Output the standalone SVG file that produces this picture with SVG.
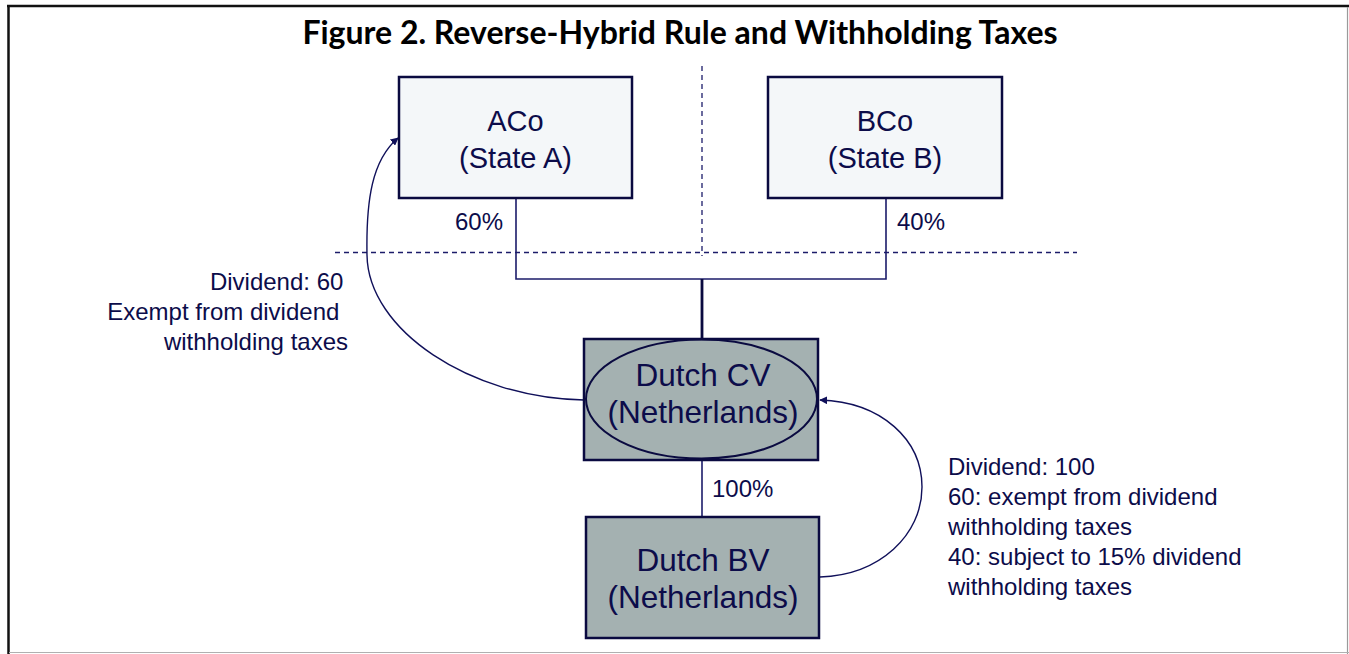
<svg xmlns="http://www.w3.org/2000/svg" width="1349" height="654" viewBox="0 0 1349 654">
  <defs>
    <marker id="arrow" viewBox="0 0 10 10" refX="9" refY="5" markerWidth="8" markerHeight="8" markerUnits="userSpaceOnUse" orient="auto">
      <path d="M0,0 L10,5 L0,10 z" fill="#10105a"/>
    </marker>
  </defs>
  <style>
    .title { font-family: Lato, "Liberation Sans", sans-serif; font-weight: 700; font-size: 32px; fill: #000; }
    .node-text { font-family: "Liberation Sans", Arial, sans-serif; font-size: 29px; fill: #0c0c4a; text-anchor: middle; }
    .node-text-lg { font-family: "Liberation Sans", Arial, sans-serif; font-size: 31.5px; fill: #0c0c4a; text-anchor: middle; }
    .label { font-family: "Liberation Sans", Arial, sans-serif; font-size: 24px; fill: #0c0c4a; }
    .box-light { fill: #f4f7f9; stroke: #0a0a40; stroke-width: 2.5; }
    .box-grey { fill: #a4b1b1; stroke: #0a0a40; stroke-width: 2.5; }
    .guide { stroke: #1c1c6a; stroke-width: 1.3; stroke-dasharray: 5 4; fill: none; }
    .link { stroke: #1c1c6a; stroke-width: 1.6; fill: none; }
    .flow { stroke: #10105a; stroke-width: 1.4; fill: none; marker-end: url(#arrow); }
  </style>

  <!-- page frame -->
  <rect x="0" y="0" width="1349" height="654" fill="#ffffff"/>
  <line x1="7" y1="6" x2="1349" y2="6" stroke="#111" stroke-width="2.5"/>
  <line x1="8.5" y1="5" x2="8.5" y2="654" stroke="#111" stroke-width="2.5"/>
  <line x1="1347.5" y1="7" x2="1347.5" y2="654" stroke="#9a9a9a" stroke-width="1.2"/>
  <line x1="9" y1="652.5" x2="1349" y2="652.5" stroke="#b0b0b0" stroke-width="1.2"/>

  <text class="title" x="680" y="44" text-anchor="middle">Figure 2. Reverse-Hybrid Rule and Withholding Taxes</text>

  <!-- jurisdiction boundaries -->
  <g id="boundaries">
    <line class="guide" x1="702" y1="66" x2="702" y2="256"/>
    <line class="guide" x1="335" y1="252.5" x2="1077" y2="252.5"/>
  </g>

  <!-- ownership and dividend connectors -->
  <g id="connectors">
    <polyline class="link" points="516,198 516,279 886,279 886,198"/>
    <line x1="702" y1="279" x2="702" y2="340" stroke="#0a0a40" stroke-width="2.8"/>
    <line class="link" x1="702" y1="460" x2="702" y2="517"/>
    <path class="flow" d="M584,400 C470,398 368,330 367,255 C366,200 372,160 398,138"/>
    <path class="flow" d="M820,577 C880,575 922,535 922,487 C922,440 882,402 820,400"/>
  </g>

  <g id="aco">
    <rect class="box-light" x="399" y="77" width="233" height="121"/>
    <text class="node-text" x="515.5" y="131">ACo</text>
    <text class="node-text" x="515.5" y="168">(State A)</text>
  </g>

  <g id="bco">
    <rect class="box-light" x="768" y="77" width="234" height="121"/>
    <text class="node-text" x="885" y="131">BCo</text>
    <text class="node-text" x="885" y="168">(State B)</text>
  </g>

  <g id="dutch-cv">
    <rect class="box-grey" x="584" y="339" width="234" height="121"/>
    <ellipse cx="701.5" cy="399" rx="115.5" ry="59.5" fill="none" stroke="#0a0a40" stroke-width="2"/>
    <text class="node-text-lg" x="703" y="386">Dutch CV</text>
    <text class="node-text-lg" x="703" y="423">(Netherlands)</text>
  </g>

  <g id="dutch-bv">
    <rect class="box-grey" x="586" y="517" width="233" height="121"/>
    <text class="node-text-lg" x="703" y="571">Dutch BV</text>
    <text class="node-text-lg" x="703" y="608">(Netherlands)</text>
  </g>

  <!-- labels -->
  <g id="labels">
    <text class="label" x="455" y="230">60%</text>
    <text class="label" x="897" y="230">40%</text>
    <text class="label" x="712" y="497">100%</text>
    <text class="label" text-anchor="end">
      <tspan x="350" y="290">Dividend: 60</tspan>
      <tspan x="346" y="320">Exempt from dividend</tspan>
      <tspan x="348" y="350">withholding taxes</tspan>
    </text>
    <text class="label">
      <tspan x="948" y="475">Dividend: 100</tspan>
      <tspan x="948" y="505">60: exempt from dividend</tspan>
      <tspan x="948" y="535">withholding taxes</tspan>
      <tspan x="948" y="565">40: subject to 15% dividend</tspan>
      <tspan x="948" y="595">withholding taxes</tspan>
    </text>
  </g>
</svg>
